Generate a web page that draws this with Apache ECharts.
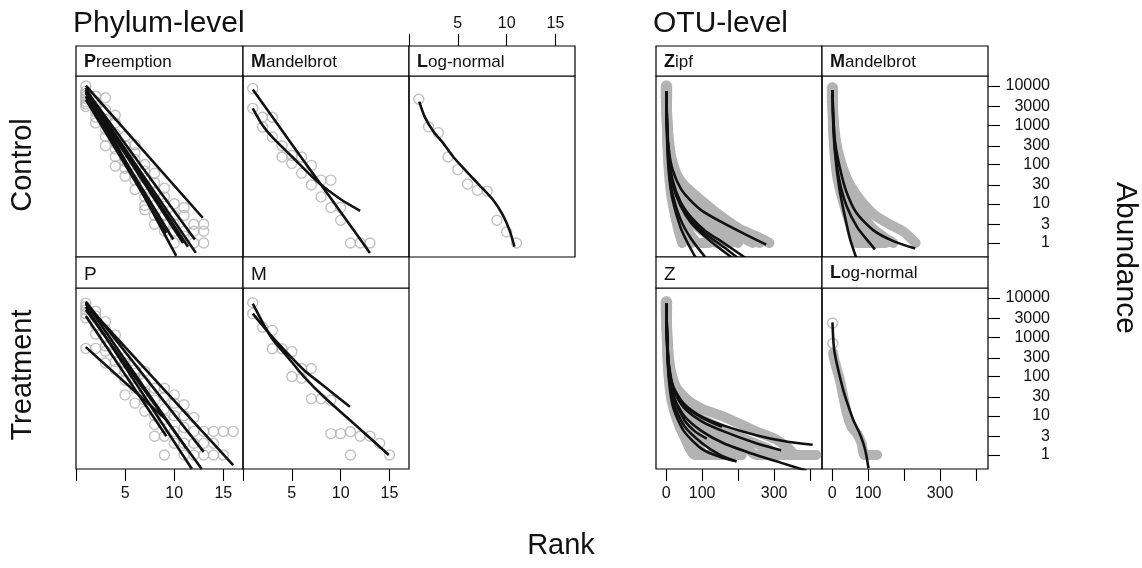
<!DOCTYPE html>
<html><head><meta charset="utf-8">
<script src="https://cdn.jsdelivr.net/npm/echarts@6/dist/echarts.min.js"></script>
<style>html,body{margin:0;padding:0;background:#fff}#c{width:1142px;height:568px}</style>
</head><body><div id="c"></div>
<script>
// ---------------- DATA ----------------
const phylumRankTicks = [0, 5, 10, 15];
const phylumRankLabels = [5, 10, 15];
const otuRankTicks = [0, 100, 200, 300, 400];
const otuRankLabels = [0, 100, 300];
const abundanceTicks = [1, 3, 10, 30, 100, 300, 1000, 3000, 10000];

// Phylum-level, Control, Preemption
const phyCtrlPreObs = [[1,10000],[1,7400],[1,6500],[1,5500],[1,4800],[1,4000],[1,3500],[1,3000],
  [2,5500],[2,4000],[2,3000],[2,2200],[2,1600],[2,1150],
  [3,5000],[3,2500],[3,1400],[3,800],[3,520],[3,300],
  [4,1800],[4,1150],[4,600],[4,350],[4,250],[4,160],[4,90],
  [5,520],[5,300],[5,200],[5,120],[5,80],[5,50],
  [6,320],[6,200],[6,135],[6,60],[6,40],[6,23],
  [7,100],[7,68],[7,45],[7,30],[7,15],[7,9],[7,7],
  [8,60],[8,34],[8,20],[8,9],[8,5],[8,3],
  [9,25],[9,15],[9,10],[9,5],[9,3],[9,2],
  [10,10],[10,5],[10,3],[10,2],[10,1],
  [11,8],[11,5],[11,2],[11,1.5],[12,3],[12,2],[12,1],[13,3],[13,2],[13,1]];
const phyCtrlPreFit1 = [[1,10200],[12.9,4.4]];
const phyCtrlPreFit2 = [[1,9000],[10.2,0.47]];
const phyCtrlPreFit3 = [[1,8000],[12.1,1.23]];
const phyCtrlPreFit4 = [[1,7400],[12.2,0.56]];
const phyCtrlPreFit5 = [[1,6500],[10.9,1.0]];
const phyCtrlPreFit6 = [[1,5500],[9.9,1.23]];
const phyCtrlPreFit7 = [[1,4500],[9.2,1.8]];
const phyCtrlPreFit8 = [[1,7000],[11.4,0.8]];

// Phylum-level, Control, Mandelbrot
const phyCtrlManObs = [[1,8700],[1,2700],[2,1600],[2,900],[3,1600],[3,500],[4,300],[4,155],[5,170],[5,107],[6,155],[6,60],
  [7,95],[7,30],[8,40],[8,15],[9,40],[9,8],[10,8],[10,3.8],[11,1],[12,1],[13,1]];
const phyCtrlManFit1 = [[1,8100],[3,1650],[5,330],[7.5,45],[10,6.2],[13,0.56]];
const phyCtrlManFit2 = [[1,2700],[2,1000],[3,500],[5,160],[7.45,40],[10,13],[12,6.6]];

// Phylum-level, Control, Log-normal
const phyCtrlLogObs = [[1,4600],[2,910],[3,650],[4,155],[5,74],[6,32],[7,22],[8,21],[9,3.8],[10,1.9],[11,1]];
const phyCtrlLogFit1 = [[1.05,3980],[1.6,1660],[2.5,690],[3.5,350],[4.5,160],[5.9,66],[7.2,30],[8.6,12.6],[9.6,5.2],[10.3,2.1],[10.8,0.81]];

// Phylum-level, Treatment, Preemption
const phyTrtPreObs = [[1,7400],[1,6000],[1,5000],[1,4000],[1,3100],[1,520],
  [2,4600],[2,3500],[2,2000],[2,1200],[2,520],
  [3,2500],[3,1600],[3,1000],[3,600],[3,440],[3,220],
  [4,1150],[4,700],[4,400],[4,240],[4,150],
  [5,300],[5,220],[5,135],[5,80],[5,34],
  [6,150],[6,120],[6,90],[6,50],[6,21],
  [7,135],[7,70],[7,40],[7,25],[7,13],
  [8,50],[8,25],[8,10],[8,6],[8,3],
  [9,50],[9,30],[9,15],[9,8],[9,3],[9,1],
  [10,34],[10,21],[10,10],[10,4],[10,2],
  [11,19],[11,10],[11,5],[11,2],[11,1],
  [12,9],[12,4],[12,2],[12,1],[13,4],[13,2],[13,1],[14,4],[14,2],[14,1],[15,4],[15,1],[16,4]];
const phyTrtPreFit1 = [[1,560],[9.3,7.5]];
const phyTrtPreFit2 = [[1,8000],[13,1.2]];
const phyTrtPreFit3 = [[1,7000],[16,0.55]];
const phyTrtPreFit4 = [[1,6000],[11.8,0.44]];
const phyTrtPreFit5 = [[1,5000],[12.8,0.44]];
const phyTrtPreFit6 = [[1,3500],[9.2,3]];
const phyTrtPreFit7 = [[1,7500],[11.2,1.5]];

// Phylum-level, Treatment, Mandelbrot
const phyTrtManObs = [[1,7600],[1,4000],[2,1800],[3,1500],[3,510],[4,510],[5,430],[5,100],[6,160],[6,90],[7,160],[7,27],
  [8,27],[9,25],[9,3.5],[10,3.5],[11,3.9],[11,1],[12,3],[13,3],[14,2],[15,1]];
const phyTrtManFit1 = [[1,7200],[2.86,1020],[4.56,316],[6.26,98],[8.3,30],[11.36,6.3],[14.93,1.0]];
const phyTrtManFit2 = [[1,4000],[2.86,1120],[4.56,390],[6.26,145],[7.96,66],[10.95,17]];

// OTU-level, Control, Zipf: observed samples
const otuCtrlZipfObs1 = [[1,10000],[2,3500],[4,1200],[8,400],[15,150],[30,55],[50,30],[83,16],[139,6],[204,2.3],[250,1.5],[287,1]];
const otuCtrlZipfObs2 = [[1,6000],[2,2000],[4,700],[8,220],[15,80],[30,30],[50,14],[80,7],[120,3.5],[180,2],[240,1]];
const otuCtrlZipfObs3 = [[1,8000],[2,2500],[4,800],[8,250],[15,80],[30,25],[50,10],[80,5],[120,2.5],[160,1.5],[200,1]];
const otuCtrlZipfObs4 = [[1,5000],[2,1500],[4,450],[8,150],[15,50],[30,15],[50,6],[80,3],[120,1.5],[150,1]];
const otuCtrlZipfObs5 = [[1,7000],[2,1800],[4,500],[8,140],[15,35],[30,9],[45,3.5],[60,1.5],[70,1]];
const otuCtrlZipfObs6 = [[1,4000],[2,1000],[4,250],[8,60],[15,15],[25,5],[35,2],[45,1]];
const otuCtrlZipfObs7 = [[1,7500],[2,2200],[4,650],[8,200],[15,65],[30,20],[50,8],[80,4],[110,2],[140,1],[180,1]];
const otuCtrlZipfObs8 = [[1,5500],[2,1400],[4,380],[8,110],[15,30],[30,8],[50,3],[70,1.5],[90,1],[120,1]];
const otuCtrlZipfObs9 = [[1,9000],[2,3000],[4,1000],[8,320],[15,110],[30,40],[50,20],[80,10],[120,4.5],[170,2.2],[230,1.2],[260,1]];
// OTU-level, Control, Zipf: fitted
const otuCtrlZipfFit1 = [[1,7400],[3,1000],[8,224],[18,74],[40,25],[65,12.9],[100,6.6],[157,3.3],[220,1.66],[278,0.91]];
const otuCtrlZipfFit2 = [[1,7400],[3,794],[8,158],[18,40],[40,11.2],[70,4.5],[110,2.0],[160,1.0],[222,0.41]];
const otuCtrlZipfFit3 = [[1,7400],[3,708],[8,126],[18,32],[40,8.9],[70,3.2],[110,1.41],[150,0.71],[185,0.41]];
const otuCtrlZipfFit4 = [[1,7400],[3,500],[8,79],[18,17.8],[40,4.0],[70,1.26],[111,0.41]];
const otuCtrlZipfFit5 = [[1,7400],[3,400],[8,56],[18,12.6],[40,2.5],[60,1.0],[83,0.41]];
const otuCtrlZipfFit6 = [[1,7400],[3,760],[8,141],[18,35],[40,10],[70,3.8],[110,1.66],[160,0.79],[200,0.41]];

// OTU-level, Control, Mandelbrot
const otuCtrlManObs1 = [[1,9000],[2,4000],[4,1500],[8,600],[15,250],[30,80],[50,30],[80,12],[120,5],[160,3],[197,2],[232,1]];
const otuCtrlManObs2 = [[1,6000],[2,2500],[4,900],[8,300],[15,100],[30,30],[50,10],[80,3],[110,1.5],[130,1]];
const otuCtrlManObs3 = [[1,4000],[2,1500],[4,500],[8,150],[15,45],[30,12],[50,3],[68,1],[100,1]];
const otuCtrlManObs4 = [[1,7500],[2,3000],[4,1100],[8,420],[15,160],[30,50],[50,18],[80,6],[110,2.5],[140,1.5],[170,1]];
const otuCtrlManObs5 = [[1,5000],[2,2000],[4,700],[8,220],[15,70],[30,20],[50,6],[70,2],[90,1],[150,1]];
const otuCtrlManFit1 = [[1,7900],[3,2000],[8,400],[22,79],[40,20],[68,5.8],[115,2.1],[170,1.12],[231,0.72]];
const otuCtrlManFit2 = [[1,7900],[3,1580],[8,250],[20,40],[40,8.9],[70,2.5],[100,1.12],[119,0.69]];
const otuCtrlManFit3 = [[1,7900],[3,1260],[8,200],[20,25],[35,5],[50,1.26],[68,0.4]];

// OTU-level, Treatment, Zipf
const otuTrtZipfObs1 = [[1,8000],[2,3000],[4,1000],[8,300],[15,120],[30,50],[60,25],[100,15],[166,9],[250,4],[305,2.5],[340,1.5],[360,1],[417,1]];
const otuTrtZipfObs2 = [[1,6000],[2,1500],[4,450],[8,140],[15,50],[30,20],[60,9],[100,5],[160,3],[210,2],[250,1],[330,1]];
const otuTrtZipfObs3 = [[1,7000],[2,2000],[4,500],[8,150],[15,45],[30,15],[60,6],[100,3],[150,1.5],[200,1]];
const otuTrtZipfObs4 = [[1,5000],[2,1200],[4,350],[8,100],[15,30],[30,10],[50,4],[80,2],[110,1],[200,1]];
const otuTrtZipfObs5 = [[1,4000],[2,1000],[4,300],[8,80],[15,25],[30,8],[50,3],[80,1],[130,1]];
const otuTrtZipfObs6 = [[1,7500],[2,2500],[4,800],[8,250],[15,90],[30,35],[60,15],[100,8],[160,4.5],[220,2.5],[280,1.5],[310,1],[400,1]];
const otuTrtZipfObs7 = [[1,5500],[2,1600],[4,500],[8,160],[15,55],[30,22],[60,10],[100,5],[140,2.5],[180,1.5],[210,1]];
const otuTrtZipfFit1 = [[1,7400],[3,1000],[8,200],[20,56],[50,20],[100,9.3],[160,5.6],[250,3.2],[330,2.24],[407,1.82]];
const otuTrtZipfFit2 = [[1,7400],[3,890],[8,158],[20,45],[50,15.8],[100,7.1],[160,4.0],[250,2.0],[320,1.32]];
const otuTrtZipfFit3 = [[1,7400],[3,794],[8,126],[20,32],[50,10],[100,4.0],[160,2.0],[250,1.0],[320,0.63],[390,0.4]];
const otuTrtZipfFit4 = [[1,7400],[3,890],[8,178],[20,50],[50,17.8],[100,8.9],[155,5.2]];
const otuTrtZipfFit5 = [[1,7400],[3,630],[8,100],[20,22],[50,5.6],[100,2.0],[150,1.0],[196,0.68]];
const otuTrtZipfFit6 = [[1,7400],[3,708],[8,126],[20,32],[50,7.9],[80,4.0],[113,2.6]];
const otuTrtZipfFit7 = [[1,7400],[3,560],[8,79],[20,15.8],[50,4.0],[100,1.41],[150,0.89],[190,0.71]];

// OTU-level, Treatment, Log-normal
const otuTrtLogObs1 = [[1,2300],[2,700],[3,400],[5,300],[10,200],[22,80],[41,11.5],[55,5],[69,3.5],[82,2],[90,1],[125,1]];
const otuTrtLogFit1 = [[1,2400],[5,560],[13,214],[31,45],[45,17.8],[59,7.8],[75,3.8],[87,1.95],[95,1.0],[101,0.46]];

// ---------------- LAYOUT / STYLE ----------------
const FONT = '"Liberation Sans", Arial, Helvetica, sans-serif';
const Y_MIN = 0.44, Y_MAX = 17990;
const PHY_X = [0, 17], OTU_X = [-28, 433];
const ROW_TOP = [76, 288], PANEL_H = 181;
const STRIP = [[46, 30], [257, 31]];
const OBS_COLOR = '#b3b3b3', FIT_COLOR = '#111';

const panels = [
  {x:76,  w:167, row:0, xr:PHY_X, strip:{b:'P', r:'reemption'}, obs:phyCtrlPreObs,
   fits:[phyCtrlPreFit1,phyCtrlPreFit2,phyCtrlPreFit3,phyCtrlPreFit4,phyCtrlPreFit5,phyCtrlPreFit6,phyCtrlPreFit7,phyCtrlPreFit8]},
  {x:243, w:166, row:0, xr:PHY_X, strip:{b:'M', r:'andelbrot'}, obs:phyCtrlManObs, fits:[phyCtrlManFit1,phyCtrlManFit2]},
  {x:409, w:166, row:0, xr:PHY_X, strip:{b:'L', r:'og-normal'}, obs:phyCtrlLogObs, fits:[phyCtrlLogFit1], topAxis:true},
  {x:76,  w:167, row:1, xr:PHY_X, strip:{p:'P'}, obs:phyTrtPreObs,
   fits:[phyTrtPreFit1,phyTrtPreFit2,phyTrtPreFit3,phyTrtPreFit4,phyTrtPreFit5,phyTrtPreFit6,phyTrtPreFit7], bottomAxis:'phy'},
  {x:243, w:166, row:1, xr:PHY_X, strip:{p:'M'}, obs:phyTrtManObs, fits:[phyTrtManFit1,phyTrtManFit2], bottomAxis:'phy'},
  {x:656, w:166, row:0, xr:OTU_X, strip:{b:'Z', r:'ipf'},
   bands:[otuCtrlZipfObs1,otuCtrlZipfObs2,otuCtrlZipfObs3,otuCtrlZipfObs4,otuCtrlZipfObs5,otuCtrlZipfObs6,otuCtrlZipfObs7,otuCtrlZipfObs8,otuCtrlZipfObs9],
   fits:[otuCtrlZipfFit1,otuCtrlZipfFit2,otuCtrlZipfFit3,otuCtrlZipfFit4,otuCtrlZipfFit5,otuCtrlZipfFit6]},
  {x:822, w:166, row:0, xr:OTU_X, strip:{b:'M', r:'andelbrot'},
   bands:[otuCtrlManObs1,otuCtrlManObs2,otuCtrlManObs3,otuCtrlManObs4,otuCtrlManObs5],
   fits:[otuCtrlManFit1,otuCtrlManFit2,otuCtrlManFit3], rightAxis:true},
  {x:656, w:166, row:1, xr:OTU_X, strip:{p:'Z'},
   bands:[otuTrtZipfObs1,otuTrtZipfObs2,otuTrtZipfObs3,otuTrtZipfObs4,otuTrtZipfObs5,otuTrtZipfObs6,otuTrtZipfObs7],
   fits:[otuTrtZipfFit1,otuTrtZipfFit2,otuTrtZipfFit3,otuTrtZipfFit4,otuTrtZipfFit5,otuTrtZipfFit6,otuTrtZipfFit7], bottomAxis:'otu'},
  {x:822, w:166, row:1, xr:OTU_X, strip:{b:'L', r:'og-normal'},
   bands:[otuTrtLogObs1], bandStart:2, fits:[otuTrtLogFit1], bottomAxis:'otu', rightAxis:true}
];

const grids = [], xAxes = [], yAxes = [], series = [], graphics = [];
const tickStyle = {color:'#000', width:1.1};
const labelStyle = {color:'#111', fontSize:16, fontFamily:FONT};
const noLine = {show:false, onZero:false};

panels.forEach(p => {
  const gi = grids.length;
  const top = ROW_TOP[p.row];
  grids.push({left:p.x, top:top, width:p.w, height:PANEL_H, show:true, borderColor:'#000', borderWidth:1.2,
    backgroundColor:'rgba(0,0,0,0)', containLabel:false, outerBoundsMode:'none'});
  const xa = {gridIndex:gi, type:'value', min:p.xr[0], max:p.xr[1], position:'bottom',
    axisLine:noLine, splitLine:{show:false}, axisTick:{show:false}, axisLabel:{show:false}};
  if (p.bottomAxis) {
    const ticks = p.bottomAxis === 'phy' ? phylumRankTicks : otuRankTicks;
    const labs = p.bottomAxis === 'phy' ? phylumRankLabels : otuRankLabels;
    xa.axisTick = {show:true, inside:false, length:12, lineStyle:tickStyle, customValues:ticks};
    xa.axisLabel = Object.assign({show:true, margin:17, customValues:labs, showMinLabel:true, showMaxLabel:true}, labelStyle);
  }
  xAxes.push(xa);
  yAxes.push({gridIndex:gi, type:'log', logBase:10, min:Y_MIN, max:Y_MAX, show:false, axisLine:noLine});
  const yi = yAxes.length - 1;
  if (p.rightAxis) {
    yAxes.push({gridIndex:gi, type:'value', position:'right', min:Math.log10(Y_MIN), max:Math.log10(Y_MAX),
      axisLine:noLine, splitLine:{show:false},
      axisTick:{show:true, inside:false, length:12, lineStyle:tickStyle, customValues:abundanceTicks.map(Math.log10)},
      axisLabel:Object.assign({show:true, margin:62, align:'right', customValues:abundanceTicks.map(Math.log10),
        formatter:v => String(Math.round(Math.pow(10, v)))}, labelStyle)});
  }
  // strip
  const sy = STRIP[p.row][0], sh = STRIP[p.row][1];
  graphics.push({type:'rect', shape:{x:p.x, y:sy, width:p.w, height:sh},
    style:{fill:'#fff', stroke:'#000', lineWidth:1.2}, z:10});
  if (p.strip.p) {
    graphics.push({type:'text', x:p.x + 8, y:sy + sh/2 + 2, z:11,
      style:{text:p.strip.p, font:'19px ' + FONT, fill:'#111', textAlign:'left', textVerticalAlign:'middle'}});
  } else {
    graphics.push({type:'text', x:p.x + 8, y:sy + sh/2 + 1, z:11,
      style:{text:'{b|' + p.strip.b + '}{n|' + p.strip.r + '}', textAlign:'left', textVerticalAlign:'middle',
        rich:{b:{font:'bold 18px ' + FONT, fill:'#111'}, n:{font:'17px ' + FONT, fill:'#111'}}}});
  }
  // observed data
  if (p.obs) {
    series.push({type:'scatter', xAxisIndex:gi, yAxisIndex:yi, data:p.obs, symbol:'circle', symbolSize:10,
      itemStyle:{color:'rgba(255,255,255,0)', borderColor:OBS_COLOR, borderWidth:1.4}, z:2, silent:true});
  }
  if (p.bands) {
    const start = p.bandStart || 0;
    p.bands.forEach(b => {
      series.push({type:'line', xAxisIndex:gi, yAxisIndex:yi, data:b.slice(start), showSymbol:false, smooth:0.2,
        lineStyle:{color:OBS_COLOR, width:10, cap:'round', join:'round'}, z:1, silent:true});
      series.push({type:'scatter', xAxisIndex:gi, yAxisIndex:yi, data:b.slice(0, Math.max(start, 1)), symbol:'circle', symbolSize:10,
        itemStyle:{color:'rgba(255,255,255,0)', borderColor:OBS_COLOR, borderWidth:1.6}, z:2, silent:true});
    });
  }
  p.fits.forEach(f => {
    series.push({type:'line', xAxisIndex:gi, yAxisIndex:yi, data:f, showSymbol:false, smooth:f.length > 2 ? 0.25 : false,
      lineStyle:{color:FIT_COLOR, width:2.6}, z:3, silent:true, clip:true});
  });
  if (p.topAxis) {
    const tg = grids.length;
    grids.push({left:p.x, top:STRIP[0][0], width:p.w, height:ROW_TOP[0] + PANEL_H - STRIP[0][0], show:false,
      containLabel:false, outerBoundsMode:'none'});
    xAxes.push({gridIndex:tg, type:'value', min:p.xr[0], max:p.xr[1], position:'top',
      axisLine:noLine, splitLine:{show:false},
      axisTick:{show:true, inside:false, length:12, lineStyle:tickStyle, customValues:phylumRankTicks},
      axisLabel:Object.assign({show:true, margin:14, customValues:phylumRankLabels}, labelStyle)});
    yAxes.push({gridIndex:tg, type:'value', min:0, max:1, show:false, axisLine:noLine});
  }
});

// titles and axis names
const T = (text, x, y, size, align, rot) => graphics.push({type:'text', x:x, y:y, rotation:rot || 0, z:12,
  style:{text:text, font:size + 'px ' + FONT, fill:'#111', textAlign:align, textVerticalAlign:'middle'}});
T('Phylum-level', 73, 24, 30, 'left');
T('OTU-level', 653, 24, 30, 'left');
T('Control', 23, 165, 29, 'center', Math.PI/2);
T('Treatment', 23, 375, 29, 'center', Math.PI/2);
T('Abundance', 1125, 258, 30, 'center', -Math.PI/2);
T('Rank', 561, 546, 29, 'center');

const chart = echarts.init(document.getElementById('c'), null, {renderer:'canvas'});
chart.setOption({
  animation:false,
  backgroundColor:'#fff',
  grid:grids, xAxis:xAxes, yAxis:yAxes, series:series, graphic:{elements:graphics}
});
</script></body></html>
